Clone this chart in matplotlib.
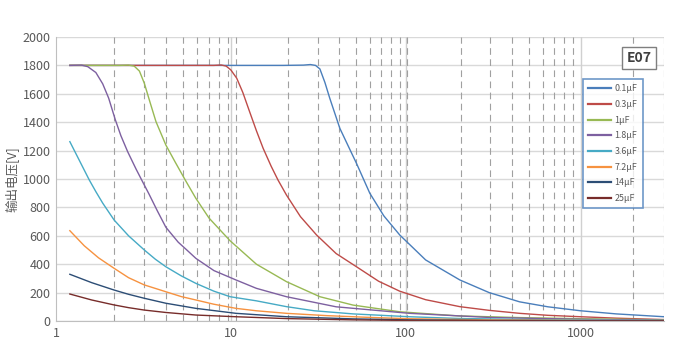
import matplotlib

matplotlib.use("Agg")
import matplotlib.pyplot as plt
from matplotlib.lines import Line2D

plt.rcParams["font.family"] = ["Noto Sans CJK SC", "DejaVu Sans"]

# ---- data ----
labels = ["0.1µF", "0.3µF", "1µF", "1.8µF", "3.6µF", "7.2µF", "14µF", "25µF"]
colors = ["#4A7EBB", "#BE4B48", "#98B954", "#7D60A0",
          "#46AAC5", "#F69240", "#2C4D75", "#772C2A"]

x_01 = [1.2, 10, 20, 26, 28.5, 30.5, 32.3, 34.5, 36.8, 42, 47, 52.3, 62.3, 75, 92.4,
        130, 204, 300, 448, 650, 1000, 1600, 3000]
v_01 = [1800, 1800, 1800, 1802, 1806, 1800, 1775, 1680, 1568, 1357, 1230, 1110, 900, 740, 606,
        430, 289, 200, 135, 100, 72, 50, 30]

x_03 = [1.2, 8, 8.8, 9.4, 10, 10.8, 11.7, 12.8, 14, 15.3, 17, 18.6, 20.8, 25, 30.9,
        40, 52.3, 70, 92.4, 130, 204, 300, 448, 650, 1000, 1600, 3000]
v_03 = [1800, 1800, 1803, 1795, 1768, 1710, 1610, 1474, 1340, 1216, 1090, 993, 887, 735, 606,
        475, 382, 280, 210, 150, 101, 75, 54, 40, 30, 20, 10]

x_1 = [1.2, 2.3, 2.6, 2.8, 3.0, 3.2, 3.45, 3.73, 4.25, 4.8, 5.53, 6.3, 7.5, 9.9, 14,
       20.8, 32.3, 50, 92.4, 200, 450, 1000, 3000]
v_1 = [1800, 1800, 1802, 1795, 1760, 1674, 1540, 1404, 1239, 1120, 985, 865, 725, 565, 400,
       277, 171, 112, 65, 36, 24, 16, 8]

x_18 = [1.2, 1.4, 1.52, 1.69, 1.85, 2.0, 2.18, 2.35, 2.57, 2.87, 3.13, 3.4, 3.8,
        4.25, 5.0, 5.6, 6.31, 8.0, 10.7, 14, 20.8, 40, 105, 300, 1000, 3000]
v_18 = [1800, 1802, 1791, 1750, 1670, 1570, 1420, 1305, 1192, 1070, 980, 895, 775,
        660, 555, 500, 441, 355, 289, 230, 171, 100, 54, 25, 12, 5]

x_36 = [1.2, 1.55, 1.69, 1.85, 2.15, 2.6, 3.2, 3.7, 4.25, 5.2, 6.31, 8, 9.9, 14, 20.8,
        30, 50, 105, 200, 500, 1000, 3000]
v_36 = [1263, 993, 911, 830, 711, 600, 500, 435, 382, 318, 265, 210, 171, 142, 101,
        72, 50, 30, 18, 10, 7, 3]

x_72 = [1.2, 1.45, 1.75, 2.15, 2.6, 3.2, 4.25, 5.2, 6.31, 8, 10.7, 14, 20.8, 35, 60,
        105, 300, 1000, 3000]
v_72 = [636, 530, 445, 371, 305, 254, 206, 172, 148, 118, 89, 72, 54, 38, 26,
        16, 8, 4, 2]

x_14 = [1.2, 1.6, 2.15, 2.6, 3.2, 4.25, 6.31, 10.7, 20.8, 50, 105, 300, 1000, 3000]
v_14 = [329, 270, 218, 188, 160, 125, 89, 54, 30, 15, 8, 4, 2, 1]

x_25 = [1.2, 1.6, 2.15, 2.6, 3.2, 4.25, 6.31, 10.7, 20.8, 50, 105, 300, 1000, 3000]
v_25 = [190, 148, 113, 94, 77, 60, 42, 30, 17, 8, 4, 2, 1, 0.5]

series_x = [x_01, x_03, x_1, x_18, x_36, x_72, x_14, x_25]
series_v = [v_01, v_03, v_1, v_18, v_36, v_72, v_14, v_25]

# dashed vertical reference lines
dashed_x = [2.15, 3.2, 4.25, 5.3, 6.4, 7.45, 8.5, 9.6, 10.7,
            21.1, 31.5, 41.8, 52.3, 62.3, 72.6, 82.9, 93.3, 102,
            206, 305, 408, 508, 610, 706, 806, 907, 2000, 3000]
major_x = [10, 100, 1000]
y_ticks = list(range(0, 2001, 200))
x_ticks = [1, 10, 100, 1000]

grey = "#595959"

fig = plt.figure(figsize=(6.81, 3.54), dpi=100)
ax = fig.add_axes([56 / 681, 1 - 321 / 354, 608 / 681, 284 / 354])

for y in y_ticks:
    ax.axhline(y, color="#D9D9D9", lw=1.0, zorder=0)
for x in major_x:
    ax.axvline(x, color="#D0D0D0", lw=1.0, zorder=0)
for x in dashed_x:
    ax.axvline(x, color="#A0A0A0", lw=0.8, ls=(0, (6, 4)), zorder=0.5)

for xs, vs, c, lab in zip(series_x, series_v, colors, labels):
    ax.plot(xs, vs, color=c, lw=1.0, label=lab, zorder=2)

ax.set_xscale("log")
ax.set_xlim(1, 3000)
ax.set_ylim(0, 2000)
ax.set_xticks(x_ticks)
ax.set_xticklabels([str(t) for t in x_ticks])
ax.xaxis.set_minor_locator(matplotlib.ticker.NullLocator())
ax.set_yticks(y_ticks)
ax.tick_params(length=0, labelsize=9, colors=grey, pad=4)
for side in ["top", "right"]:
    ax.spines[side].set_visible(False)
for side in ["left", "bottom"]:
    ax.spines[side].set_color("#BFBFBF")
ax.set_ylabel("输出电压[V]", fontsize=9, color=grey)
ax.yaxis.set_label_coords(-0.062, 0.5)

handles = [Line2D([], [], color=c, lw=1.6) for c in colors]
leg = fig.legend(handles, labels, loc="upper left",
                 bbox_to_anchor=(583 / 681, 1 - 79 / 354),
                 fontsize=6.4, frameon=True, fancybox=False,
                 handlelength=2.6, labelspacing=0.75, borderpad=0.6,
                 handletextpad=0.35, borderaxespad=0)
leg.get_frame().set_edgecolor("#4A7EBB")
leg.get_frame().set_linewidth(1.2)
for t in leg.get_texts():
    t.set_color(grey)

fig.text(639 / 681, 1 - 58 / 354, "E07", fontsize=10, fontweight="bold",
         color="#404040", ha="center", va="center",
         bbox=dict(boxstyle="square,pad=0.3", fc="white", ec="#7F7F7F", lw=1.0))

fig.savefig("out.png", dpi=100)
